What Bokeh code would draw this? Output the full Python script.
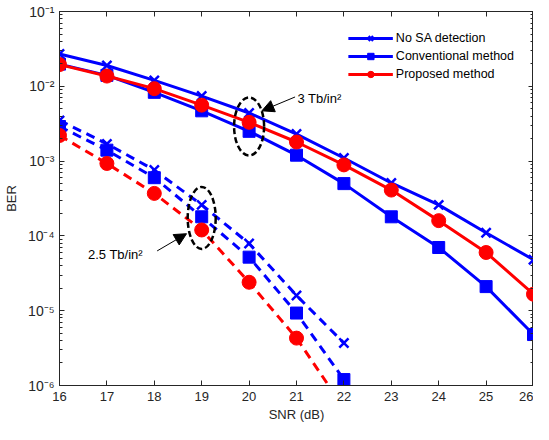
from bokeh.plotting import figure
from bokeh.models import (Range1d, FixedTicker, CustomJSTickFormatter, LogAxis, LinearAxis,
                          Arrow, NormalHead, Label, Legend)
from bokeh.embed import file_html
from bokeh.resources import INLINE

# ---- data ----
snr_3 = [16, 17, 18, 19, 20, 21, 22, 23, 24, 25, 26]
nosa_3 = [0.027, 0.019, 0.012, 0.0074, 0.0044, 0.0023, 0.0011, 0.00051, 0.00026, 0.00011, 0.000048]
conv_3 = [0.0198, 0.014, 0.0083, 0.0047, 0.0025, 0.0012, 0.0005, 0.00018, 0.00007, 0.000021, 0.0000048]
prop_3 = [0.0195, 0.0137, 0.0093, 0.0056, 0.0033, 0.0018, 0.00089, 0.00041, 0.00016, 0.00006, 0.0000166]

snr_25 = [16, 17, 18, 19, 20, 21, 22]
nosa_25 = [0.0035, 0.0017, 0.00076, 0.00026, 0.000079, 0.000016, 0.0000037]
conv_25 = [0.0029, 0.0014, 0.0006, 0.00018, 0.000052, 0.0000093, 0.0000012]
prop_25 = [0.0022, 0.00093, 0.00037, 0.00012, 0.000024, 0.0000043, 0.0000005]

x_ticks = [16, 17, 18, 19, 20, 21, 22, 23, 24, 25, 26]
y_ticks = [1e-6, 1e-5, 1e-4, 1e-3, 1e-2, 1e-1]

labels = ["No SA detection", "Conventional method", "Proposed method"]

BLUE = "#0000FF"
RED = "#FF0000"
AX = "#262626"
FONT = "Liberation Sans"

p = figure(width=533, height=424, output_backend="svg", toolbar_location=None,
           y_axis_type="log", x_range=Range1d(16, 26), y_range=Range1d(1e-6, 1e-1),
           min_border_left=56, min_border_right=0, min_border_top=11, min_border_bottom=0)
p.grid.visible = False
p.outline_line_color = AX
p.outline_line_width = 1

minor = [m * 10.0 ** e for e in range(-6, -1) for m in range(2, 10)]

fmt = CustomJSTickFormatter(code="""
const e = Math.round(Math.log10(tick));
const sup = {"-":"\\u207b","0":"\\u2070","1":"\\u00b9","2":"\\u00b2","3":"\\u00b3","4":"\\u2074","5":"\\u2075","6":"\\u2076","7":"\\u2077","8":"\\u2078","9":"\\u2079"};
return "10" + String(e).split("").map(c => sup[c]).join("");
""")
blank = CustomJSTickFormatter(code="return '';")

def style_axis(ax):
    ax.axis_line_color = AX
    ax.major_tick_line_color = AX
    ax.minor_tick_line_color = AX
    ax.major_tick_in = 5
    ax.major_tick_out = 0
    ax.minor_tick_in = 3
    ax.minor_tick_out = 0
    ax.major_label_text_font = FONT
    ax.major_label_text_font_size = "13px"
    ax.major_label_text_color = AX
    ax.axis_label_text_font = FONT
    ax.axis_label_text_font_size = "13px"
    ax.axis_label_text_font_style = "normal"
    ax.axis_label_text_color = AX

xa = p.xaxis[0]
xa.ticker = FixedTicker(ticks=x_ticks)
xa.axis_label = "SNR (dB)"
xa.axis_label_standoff = 3
style_axis(xa)
xa.major_label_standoff = 6

ya = p.yaxis[0]
ya.ticker = FixedTicker(ticks=y_ticks, minor_ticks=minor)
ya.formatter = fmt
ya.axis_label = "BER"
ya.axis_label_standoff = 6
style_axis(ya)
ya.major_label_text_font_size = "14px"
ya.major_label_standoff = 5

ra = LogAxis(ticker=FixedTicker(ticks=y_ticks, minor_ticks=minor), formatter=blank)
style_axis(ra)
ra.major_label_text_font_size = "1px"
ra.major_label_text_alpha = 0
ra.major_label_standoff = 0
p.add_layout(ra, "right")

ta = LinearAxis(ticker=FixedTicker(ticks=x_ticks), formatter=blank)
style_axis(ta)
ta.major_label_text_font_size = "1px"
ta.major_label_text_alpha = 0
ta.major_label_standoff = 0
p.add_layout(ta, "above")

LW = 3
DASH = "9 6"

# 3 Tb/in^2 (solid)
l1 = p.line(snr_3, nosa_3, line_color=BLUE, line_width=LW)
m1 = p.scatter(snr_3, nosa_3, marker="x", size=13, line_color=BLUE, line_width=2.5)
l2 = p.line(snr_3, conv_3, line_color=BLUE, line_width=LW)
m2 = p.scatter(snr_3, conv_3, marker="square", size=12, fill_color=BLUE, line_color=BLUE)
l3 = p.line(snr_3, prop_3, line_color=RED, line_width=LW)
m3 = p.scatter(snr_3, prop_3, marker="circle", size=14, fill_color=RED, line_color=RED)

# 2.5 Tb/in^2 (dashed)
p.line(snr_25, nosa_25, line_color=BLUE, line_width=LW, line_dash=DASH)
p.scatter(snr_25, nosa_25, marker="x", size=13, line_color=BLUE, line_width=2.5)
p.line(snr_25, conv_25, line_color=BLUE, line_width=LW, line_dash=DASH)
p.scatter(snr_25, conv_25, marker="square", size=12, fill_color=BLUE, line_color=BLUE)
p.line(snr_25, prop_25, line_color=RED, line_width=LW, line_dash=DASH)
p.scatter(snr_25, prop_25, marker="circle", size=14, fill_color=RED, line_color=RED)

# annotations
p.ellipse(x=[20.0], y=[0.0029], width=[30], height=[58], width_units="screen", height_units="screen",
          fill_alpha=0, line_color="black", line_width=2.5, line_dash="6 3")
p.ellipse(x=[19.0], y=[0.000174], width=[28], height=[62], width_units="screen", height_units="screen",
          fill_alpha=0, line_color="black", line_width=2.5, line_dash="6 3")

p.add_layout(Arrow(end=NormalHead(size=12, fill_color="black", line_color="black"),
                   x_start=20.97, y_start=0.0072, x_end=20.27, y_end=0.0047,
                   line_color="black", line_width=1))
p.add_layout(Arrow(end=NormalHead(size=12, fill_color="black", line_color="black"),
                   x_start=18.06, y_start=0.000063, x_end=18.68, y_end=0.000107,
                   line_color="black", line_width=1))

p.add_layout(Label(x=21.02, y=0.0068, text="3 Tb/in\u00b2", text_font=FONT, text_font_size="13px",
                   text_baseline="middle", text_color="black"))
p.add_layout(Label(x=16.6, y=0.000056, text="2.5 Tb/in\u00b2", text_font=FONT, text_font_size="13px",
                   text_baseline="middle", text_color="black"))

legend = Legend(items=[(labels[0], [l1, m1]), (labels[1], [l2, m2]), (labels[2], [l3, m3])],
                location="top_right")
legend.label_text_font = FONT
legend.label_text_font_size = "12.5px"
legend.label_text_color = "black"
legend.glyph_width = 45
legend.glyph_height = 16
legend.spacing = 2
legend.padding = 6
legend.margin = 13
legend.border_line_alpha = 0
legend.background_fill_color = "white"
legend.background_fill_alpha = 1
legend.label_standoff = 3
p.add_layout(legend)

open("out.html", "w").write(file_html(p, INLINE))
